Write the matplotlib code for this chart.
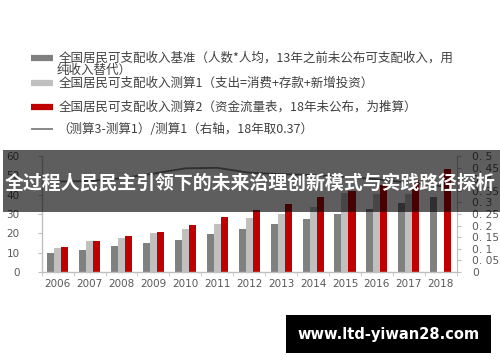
import matplotlib
matplotlib.use('Agg')
import matplotlib.pyplot as plt
import numpy as np
from matplotlib.patches import Rectangle
from matplotlib.lines import Line2D

# ---------------- data ----------------
years = ['2006', '2007', '2008', '2009', '2010', '2011', '2012',
         '2013', '2014', '2015', '2016', '2017', '2018']
base = [9.6, 11.3, 13.4, 14.8, 16.7, 19.6, 22.3, 24.6, 27.3, 30.0, 32.6, 35.6, 38.9]
calc1 = [12.2, 16.1, 17.5, 20.4, 22.5, 24.7, 27.9, 30.2, 33.4, 41.0, 40.2, 40.5, np.nan]
calc2 = [13.0, 15.8, 18.6, 20.6, 24.2, 28.4, 32.0, 35.4, 38.6, 42.0, 44.8, 47.8, 53.3]
ratio = [0.39, 0.392, 0.404, 0.424, 0.447, 0.449, 0.428, 0.422, 0.418, 0.41, 0.40, 0.385, 0.37]

left_ticks = [0, 10, 20, 30, 40, 50, 60]
right_ticks = [0, 0.05, 0.1, 0.15, 0.2, 0.25, 0.3, 0.35, 0.4, 0.45, 0.5]
right_tick_labels = ['0', '0. 05', '0. 1', '0. 15', '0. 2', '0. 25', '0. 3',
                     '0. 35', '0. 4', '0. 45', '0. 5']

legend_texts = [
    '全国居民可支配收入基准（人数*人均，13年之前未公布可支配收入，用',
    '纯收入替代）',
    '全国居民可支配收入测算1（支出=消费+存款+新增投资）',
    '全国居民可支配收入测算2（资金流量表，18年未公布，为推算）',
    '（测算3-测算1）/测算1（右轴，18年取0.37）',
]
banner_title = '全过程人民民主引领下的未来治理创新模式与实践路径探析'
watermark = 'www.ltd-yiwan28.com'

c_dark, c_light, c_red, c_line = '#808080', '#c0c0c0', '#c00000', '#7f7f7f'
axis_col = '#bfbfbf'
lab_col = '#595959'

plt.rcParams['font.family'] = ['DejaVu Sans']
cjk = ['Noto Sans CJK SC', 'DejaVu Sans']

W, H = 500, 362
fig = plt.figure(figsize=(W / 100, H / 100), dpi=100)
fig.patch.set_facecolor('white')

def fx(px):
    return px / W

def fy(py):
    return 1 - py / H

ax_left, ax_right, ax_top, ax_bot = 41.7, 456.7, 156.0, 272.0
ax = fig.add_axes([fx(ax_left), fy(ax_bot), (ax_right - ax_left) / W, (ax_bot - ax_top) / H])
x = np.arange(len(years))
w = 0.22
ax.bar(x - w, base, w, color=c_dark, zorder=2)
ax.bar(x, calc1, w, color=c_light, zorder=2)
ax.bar(x + w, calc2, w, color=c_red, zorder=2)
ax.set_xlim(-0.5, len(years) - 0.5)
ax.set_ylim(0, 60)
ax.set_yticks(left_ticks)
ax.set_yticklabels([str(t) for t in left_ticks])
ax.set_xticks(x)
ax.set_xticklabels(years)
ax.set_xticks(np.arange(-0.5, len(years), 1.0), minor=True)
ax.tick_params(axis='x', which='major', length=0, pad=5, labelsize=7.5, labelcolor=lab_col)
ax.tick_params(axis='x', which='minor', length=3, color=axis_col, direction='out')
ax.tick_params(axis='y', length=3, color=axis_col, direction='out', pad=13,
               labelsize=7.5, labelcolor=lab_col)
for s in ['top', 'right']:
    ax.spines[s].set_visible(False)
for s in ['left', 'bottom']:
    ax.spines[s].set_color(axis_col)
    ax.spines[s].set_linewidth(1.0)

ax2 = ax.twinx()
ax2.plot(x, ratio, color=c_line, lw=1.3, zorder=3)
ax2.set_ylim(0, 0.5)
ax2.set_yticks(right_ticks)
ax2.set_yticklabels(right_tick_labels)
ax2.tick_params(axis='y', length=3, color=axis_col, direction='out', pad=8,
                labelsize=7.7, labelcolor=lab_col)
for s in ['top', 'left', 'bottom']:
    ax2.spines[s].set_visible(False)
ax2.spines['right'].set_color(axis_col)

# ---------------- legend (manual) ----------------
txt_kw = dict(fontsize=9.0, color='#404040', family=cjk, va='center', ha='left')
sample_x0, sample_x1 = 31, 53
entries = [(58.3, c_dark, 4.5), (82.7, c_light, 4.5), (106.7, c_red, 4.5), (129.3, c_line, 1.3)]
for (yy, col, lw) in entries:
    fig.add_artist(Line2D([fx(sample_x0), fx(sample_x1)], [fy(yy), fy(yy)],
                          color=col, lw=lw, transform=fig.transFigure, solid_capstyle='butt'))
fig.text(fx(59), fy(57.8), legend_texts[0], **txt_kw)
fig.text(fx(57), fy(70.3), legend_texts[1], **txt_kw)
fig.text(fx(59), fy(83.0), legend_texts[2], **txt_kw)
fig.text(fx(59), fy(106.7), legend_texts[3], **txt_kw)
fig.text(fx(57), fy(129.3), legend_texts[4], **txt_kw)

# ---------------- banner overlay ----------------
fig.add_artist(Rectangle((fx(3), fy(212)), (W - 3) / W, 62 / H, transform=fig.transFigure,
                         facecolor='black', alpha=0.63, edgecolor='none', zorder=10))
fig.text(0.5, fy(183.5), banner_title, color='white', fontsize=13.6, fontweight='bold',
         family=cjk, ha='center', va='center', zorder=11)

# ---------------- watermark ----------------
fig.add_artist(Rectangle((fx(286), fy(353)), 205 / W, 38 / H, transform=fig.transFigure,
                         facecolor='black', edgecolor='none', zorder=10))
fig.text(fx(388.5), fy(334), watermark, color='white', fontsize=10.5, fontweight='bold',
         family=['DejaVu Sans'], ha='center', va='center', zorder=11)

fig.savefig('out.png', dpi=100)
